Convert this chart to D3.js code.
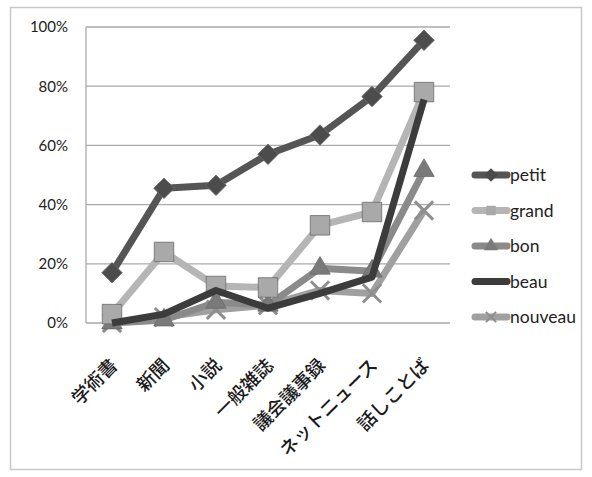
<!DOCTYPE html>
<html><head><meta charset="utf-8">
<script src="https://cdn.jsdelivr.net/npm/d3@7"></script>
<style>body{margin:0;background:#fff}</style>
</head><body>
<svg id="c" width="592" height="477"></svg>
<script>
const categories = ["学術書","新聞","小説","一般雑誌","議会議事録","ネットニュース","話しことば"];
const petit   = [17, 45.5, 46.5, 57, 63.5, 76.5, 95.5];
const grand   = [3, 24, 12.5, 12, 33, 37.5, 78];
const bon     = [0, 1, 7, 6, 18.5, 17.5, 51.5];
const beau    = [0, 3, 11, 5, 10, 15.5, 75.5];
const nouveau = [0, 2, 4.5, 6, 11, 10, 38];
const seriesNames = ["petit","grand","bon","beau","nouveau"];
const yTicks = [0, 20, 40, 60, 80, 100];

const seriesData = [petit, grand, bon, beau, nouveau];
const colors = ["#555555","#b5b5b5","#8a8a8a","#3c3c3c","#a0a0a0"];
const markerColors = ["#4c4c4c","#a9a9a9","#7a7a7a","#3c3c3c","#8e8e8e"];
const symbols = [d3.symbolSquare, d3.symbolSquare, d3.symbolTriangle, null, d3.symbolX];
const rot = [45, 0, 0, 0, 0];
const sizes = [210, 380, 180, 0, 220];

const svg = d3.select("#c");
svg.append("rect").attr("x",10.5).attr("y",7.5).attr("width",571).attr("height",462)
  .attr("fill","#fff").attr("stroke","#c8c8c8").attr("stroke-width",1.5);

const x = d3.scaleBand().domain(categories).range([86, 450]);
const y = d3.scaleLinear().domain([0,100]).range([323, 27]);
const cx = d => x(d) + x.bandwidth()/2;

const g = svg.append("g");
g.selectAll("line.grid").data(yTicks).join("line")
  .attr("x1",86).attr("x2",450).attr("y1",d=>y(d)).attr("y2",d=>y(d))
  .attr("stroke","#aaaaaa").attr("stroke-width",1.3);
g.append("line").attr("x1",86).attr("x2",86).attr("y1",y(100)).attr("y2",y(0))
  .attr("stroke","#aaaaaa").attr("stroke-width",1.3);

const yAxis = d3.axisLeft(y).tickValues(yTicks).tickFormat(d=>d+"%").tickSize(0).tickPadding(18);
const ya = svg.append("g").attr("transform","translate(86,0)").call(yAxis);
ya.select(".domain").remove();
ya.selectAll("text").attr("font-family","Lato, 'Open Sans', sans-serif").attr("font-size",15).attr("fill","#222");

const xa = svg.append("g");
xa.selectAll("text").data(categories).join("text")
  .attr("transform",d=>`translate(${cx(d)+1},${361}) rotate(-45)`)
  .attr("text-anchor","end").attr("dominant-baseline","central")
  .attr("font-family","'Noto Sans CJK JP', sans-serif").attr("font-weight","500")
  .attr("font-size",18.5).attr("fill","#1a1a1a").text(d=>d);

const line = d3.line().x((d,i)=>cx(categories[i])).y(d=>y(d));
const order = [4,2,1,3,0];
order.forEach(si=>{
  const data = seriesData[si];
  g.append("path").datum(data).attr("d",line).attr("fill","none")
    .attr("stroke",colors[si]).attr("stroke-width",7).attr("stroke-linejoin","round");
  if (symbols[si]) {
    const isX = si===4;
    g.selectAll(null).data(data).join("path")
      .attr("transform",(d,i)=>`translate(${cx(categories[i])},${y(d)}) rotate(${rot[si]})`)
      .attr("d",d3.symbol().type(symbols[si]).size(sizes[si]))
      .attr("fill",isX?"none":markerColors[si])
      .attr("stroke",isX?markerColors[si]:"#6a6a6a").attr("stroke-width",isX?3:0.8);
  }
});

const lg = svg.append("g");
seriesNames.forEach((n,i)=>{
  const ly = 175 + i*35.5;
  lg.append("line").attr("x1",475).attr("x2",507).attr("y1",ly).attr("y2",ly)
    .attr("stroke",colors[i]).attr("stroke-width",7).attr("stroke-linecap","round");
  if (symbols[i]) {
    const isX = i===4;
    lg.append("path").attr("transform",`translate(491,${ly}) rotate(${rot[i]})`)
      .attr("d",d3.symbol().type(symbols[i]).size(isX?70:90))
      .attr("fill",isX?"none":markerColors[i]).attr("stroke",isX?markerColors[i]:"none").attr("stroke-width",2);
  }
  lg.append("text").attr("x",510).attr("y",ly).attr("dy","0.35em")
    .attr("font-family","Lato, 'Open Sans', sans-serif").attr("font-size",17.5).attr("fill","#222").text(n);
});
</script>
</body></html>
